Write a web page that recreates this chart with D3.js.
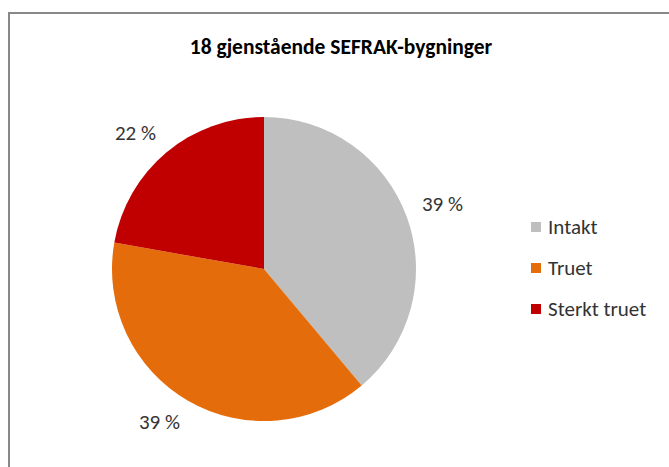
<!DOCTYPE html>
<html>
<head>
<meta charset="utf-8">
<script src="https://cdn.jsdelivr.net/npm/d3@7"></script>
<style>
  body { margin: 0; background: #fff; }
  text { font-family: Carlito, "Open Sans", "Liberation Sans", sans-serif; fill: #333; }
</style>
</head>
<body>
<script>
var categories = ["Intakt", "Truet", "Sterkt truet"];
var values = [7, 7, 4];
var labels = ["39 %", "39 %", "22 %"];
var colors = ["#BFBFBF", "#E46C0A", "#C00000"];
var title = "18 gjenstående SEFRAK-bygninger";

var width = 669, height = 467;
var cx = 264, cy = 269, radius = 152;

var svg = d3.select("body").append("svg")
    .attr("width", width)
    .attr("height", height);

// chart border (runs off the right/bottom edge)
svg.append("rect")
    .attr("x", 9).attr("y", 13)
    .attr("width", 700).attr("height", 500)
    .attr("fill", "#fff")
    .attr("stroke", "#888")
    .attr("stroke-width", 2);

svg.append("text")
    .attr("x", 341).attr("y", 54)
    .attr("text-anchor", "middle")
    .style("font-size", "21.5px")
    .style("font-weight", "bold")
    .style("fill", "#000")
    .text(title);

var pie = d3.pie().sort(null).value(function(d){ return d; });
var arcs = pie(values);
var arc = d3.arc().innerRadius(0).outerRadius(radius);

var g = svg.append("g").attr("transform", "translate(" + cx + "," + cy + ")");

g.selectAll("path.slice")
    .data(arcs)
  .enter().append("path")
    .attr("class", "slice")
    .attr("d", arc)
    .attr("fill", function(d, i){ return colors[i]; });

// outside labels: box corner sits just off the rim, like excel does it
var lbl = g.selectAll("text.lbl")
    .data(arcs)
  .enter().append("text")
    .attr("class", "lbl")
    .attr("text-anchor", "middle")
    .attr("dy", "0.35em")
    .style("font-size", "21px")
    .text(function(d, i){ return labels[i]; });

lbl.attr("transform", function(d){
  var a = (d.startAngle + d.endAngle) / 2,
      dx = Math.sin(a), dy = -Math.cos(a),
      bb = this.getBBox(),
      rr = radius + 16;
  var x = dx * rr + (dx < 0 ? -1 : 1) * bb.width / 2,
      y = dy * rr + (dy < 0 ? -1 : 1) * 7.5;
  return "translate(" + x + "," + y + ")";
});

var legend = svg.append("g").attr("transform", "translate(531,222)");
var item = legend.selectAll("g")
    .data(categories)
  .enter().append("g")
    .attr("transform", function(d, i){ return "translate(0," + (i * 41) + ")"; });

item.append("rect")
    .attr("width", 10).attr("height", 10)
    .attr("fill", function(d, i){ return colors[i]; });

item.append("text")
    .attr("x", 17).attr("y", 5)
    .attr("dy", "0.35em")
    .style("font-size", "21px")
    .text(function(d){ return d; });
</script>
</body>
</html>
